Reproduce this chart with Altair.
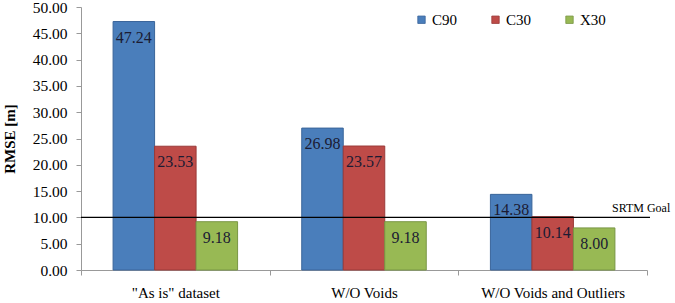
import altair as alt
import pandas as pd

categories = ['"As is" dataset', "W/O Voids", "W/O Voids and Outliers"]
series = ["C90", "C30", "X30"]
c90 = [47.24, 26.98, 14.38]
c30 = [23.53, 23.57, 10.14]
x30 = [9.18, 9.18, 8.00]
goal = [10.0]
goal_label = ["SRTM Goal"]
y_ticks = [0, 5, 10, 15, 20, 25, 30, 35, 40, 45, 50]

fills = ["#4A7EBB", "#BE4B48", "#98B954"]
strokes = ["#3A659A", "#9A3A38", "#799645"]

rows = []
for i, c in enumerate(categories):
    for s, vals in zip(series, [c90, c30, x30]):
        rows.append({"category": c, "series": s, "value": vals[i]})
df = pd.DataFrame(rows)
goal_df = pd.DataFrame({"value": goal, "label": goal_label})

FONT = "Liberation Serif"
W, H = 566, 263

xenc = alt.X(
    "category:N",
    sort=categories,
    scale=alt.Scale(paddingInner=0, paddingOuter=0),
    axis=alt.Axis(
        title=None, labelAngle=0, labelFont=FONT, labelFontSize=15,
        labelColor="#000", labelPadding=10, tickBand="extent",
        domainColor="#999", tickColor="#999", tickSize=5,
    ),
)
xoff = alt.XOffset("series:N", sort=series,
                   scale=alt.Scale(paddingInner=0, paddingOuter=0.773))
yaxis = alt.Axis(
    titleFont=FONT, titleFontSize=15, titleFontWeight="bold",
    titleColor="#000", titlePadding=15,
    labelFont=FONT, labelFontSize=15.5, labelColor="#000", format=".2f",
    values=y_ticks, grid=False, domainColor="#999",
    tickColor="#999", tickSize=5, labelPadding=9, labelOverlap=False,
)
yenc = alt.Y(
    "value:Q",
    title="RMSE [m]",
    scale=alt.Scale(domain=[0, 50], nice=False),
    axis=yaxis,
)

bars = alt.Chart(df).mark_bar(strokeWidth=1).encode(
    x=xenc,
    xOffset=xoff,
    y=yenc,
    color=alt.Color(
        "series:N", sort=series,
        scale=alt.Scale(domain=series, range=fills),
        legend=alt.Legend(
            title=None, orient="none", direction="horizontal", columns=3,
            legendX=333, legendY=5, symbolType="square", symbolSize=55,
            symbolStrokeWidth=0.8, labelFont=FONT, labelFontSize=15,
            labelColor="#000", columnPadding=30, labelOffset=3,
        ),
    ),
    stroke=alt.Stroke("series:N", sort=series,
                      scale=alt.Scale(domain=series, range=strokes), legend=None),
)

labels = alt.Chart(df).mark_text(
    baseline="top", dy=8, font=FONT, fontSize=16, color="#1b1b33"
).encode(
    x=xenc,
    xOffset=xoff,
    y=yenc,
    text=alt.Text("value:Q", format=".2f"),
)

rule = alt.Chart(goal_df).mark_rule(color="#000", strokeWidth=1.2).encode(
    y=yenc,
    x=alt.value(0),
    x2=alt.value(W + 3),
)

goal_text = alt.Chart(goal_df).mark_text(
    align="left", baseline="middle", font=FONT, fontSize=12, color="#000",
    dx=-35, dy=-9,
).encode(y=yenc, x=alt.value(W), text="label:N")

chart = alt.layer(bars, labels, rule, goal_text).properties(
    width=W, height=H,
    autosize=alt.AutoSizeParams(type="none"),
    padding={"left": 81, "top": 7, "right": 28, "bottom": 33},
    background="#FFFFFF",
).configure_view(stroke=None)

chart.save("out.html", embed_options={"renderer": "svg", "actions": False})
